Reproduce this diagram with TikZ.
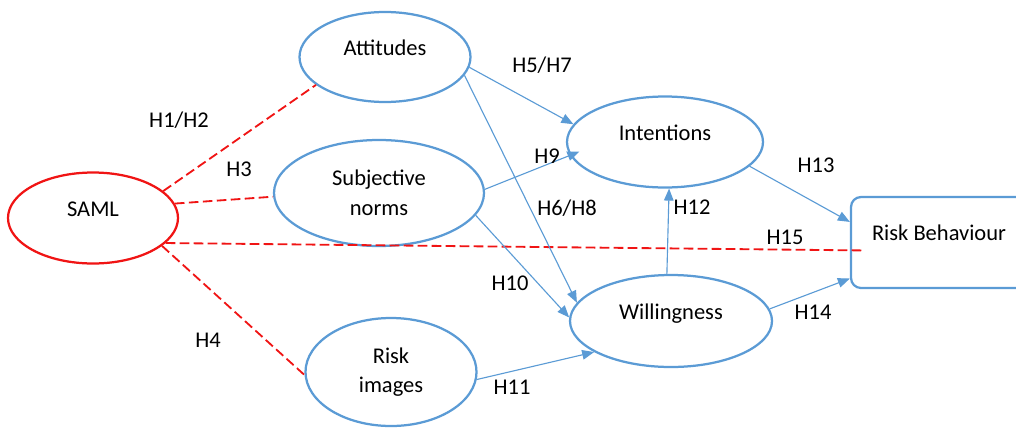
\documentclass[tikz,border=0pt]{standalone}
\usepackage{fontspec}
\setmainfont{Carlito}
\usetikzlibrary{shapes.geometric,arrows.meta}

\definecolor{boxblue}{RGB}{91,155,213}
\definecolor{dashred}{RGB}{240,20,20}

\begin{document}
\begin{tikzpicture}
  [x=0.25mm,y=-0.25mm,
   every node/.style={font=\fontsize{16}{19}\selectfont,inner sep=0pt},
   oval/.style={ellipse, draw=boxblue, line width=1.6pt, align=center},
   oneline/.style={text height=3.6mm, text depth=4.4mm},
   arr/.style={-{Triangle[length=3mm,width=2.4mm]}, draw=boxblue, line width=0.8pt},
   reddash/.style={draw=dashred, line width=1.3pt, dash pattern=on 2.4mm off 1.1mm}]

  \useasboundingbox (0,0) rectangle (1016,429);
  \clip (0,0) rectangle (1016,429);

  %%%%%%%%%%%%%%%%%%%%%% NODES %%%%%%%%%%%%%%%%%%%%%%

  \node[oval, oneline, draw=dashred, minimum width=42.5mm, minimum height=22.75mm] (saml) at (93,218) {SAML};

  \node[oval, oneline, minimum width=42.75mm, minimum height=22.5mm] (att) at (385,57) {Attitudes};
  \node[oval, minimum width=52.5mm, minimum height=26.5mm] (subj) at (379,193) {Subjective\\[2pt]norms};
  \node[oval, minimum width=42.75mm, minimum height=27mm] (ri) at (391,372) {Risk\\[2pt]images};

  \node[oval, oneline, minimum width=49mm, minimum height=22.75mm] (int) at (665,142) {Intentions};
  \node[oval, oneline, minimum width=50.5mm, minimum height=23mm] (will) at (671,321) {Willingness};

  \node[draw=boxblue, line width=1.6pt, rounded corners=2.5mm, oneline,
        minimum width=44mm, minimum height=22.75mm] (rb) at (939,242.5) {Risk Behaviour};

  %%%%%%%%%%%%%%%%%%%%%% CONNECTORS %%%%%%%%%%%%%%%%%%%%%%

  \foreach \fromnode/\tonode in {saml.21/att.202,saml.10/subj.182,saml.-22/ri.182}
    \draw[reddash] (\fromnode) -- (\tonode);
  \draw[reddash, shorten >=-3.75mm] (saml.-19) -- (rb.185);

  \foreach \fromnode/\tonode in {att.-7/int.169,att.-13/will.169,subj.-13/will.178,ri.-5/will.202,will.95/int.-85,int.-16/rb.167,will.7/rb.202}
    \draw[arr] (\fromnode) -- (\tonode);
  \draw[arr, shorten >=-2.5mm] (subj.2) -- (int.188);

  %%%%%%%%%%%%%%%%%%%%%% LABELS %%%%%%%%%%%%%%%%%%%%%%

  \node (h1) at (179,120) {H1/H2};
  \node (h3) at (239,169) {H3};
  \node (h4) at (208,340) {H4};
  \node (h5) at (542,65)  {H5/H7};
  \node (h9) at (547,156) {H9};
  \node (h6) at (567,208) {H6/H8};
  \node (h10) at (510,283) {H10};
  \node (h11) at (512,387) {H11};
  \node (h12) at (692,207) {H12};
  \node (h13) at (816,165) {H13};
  \node (h15) at (785,237) {H15};
  \node (h14) at (813,312) {H14};

\end{tikzpicture}
\end{document}
